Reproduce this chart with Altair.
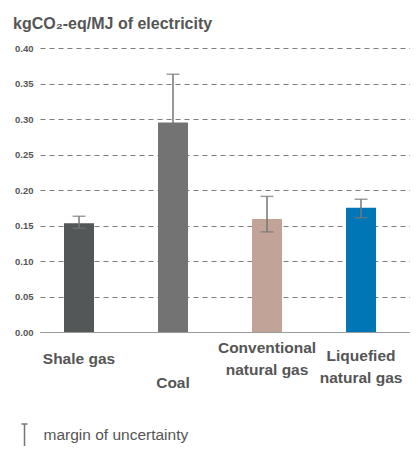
import altair as alt
import pandas as pd

# ---- data ----
categories = ["Shale gas", "Coal", "Conventional natural gas", "Liquefied natural gas"]
values = [0.153, 0.295, 0.159, 0.175]
lows = [0.146, 0.291, 0.141, 0.161]
highs = [0.163, 0.363, 0.191, 0.187]
bar_colors = ["#535758", "#737373", "#c1a398", "#0076b6"]
y_ticks = [0.0, 0.05, 0.10, 0.15, 0.20, 0.25, 0.30, 0.35, 0.40]
legend_label = "margin of uncertainty"
title_text = "kgCO\u2082-eq/MJ of electricity"

df = pd.DataFrame({
    "category": categories,
    "value": values,
    "low": lows,
    "high": highs,
    "legend": [legend_label] * len(categories),
})

FONT = "Liberation Sans"
TEXT = "#555555"
ERR = "#767676"

x_scale = alt.Scale(domain=categories, paddingInner=0.681, paddingOuter=0.3085, align=0.414)

x_axis = alt.Axis(
    title=None,
    labelAngle=0,
    ticks=False,
    tickSize=0,
    grid=False,
    domain=True,
    domainColor="#9a9a9a",
    domainWidth=1,
    labelFont=FONT,
    labelFontSize=15.5,
    labelFontWeight="bold",
    labelColor=TEXT,
    labelBaseline="alphabetic",
    labelLineHeight=22,
    labelOverlap=False,
    labelBound=False,
    labelFlush=False,
    labelExpr="datum.value == 'Conventional natural gas' ? ['Conventional', 'natural gas'] : "
              "datum.value == 'Liquefied natural gas' ? ['Liquefied', 'natural gas'] : datum.label",
    labelPadding={
        "condition": [
            {"test": "datum.value == 'Coal'", "value": 55},
            {"test": "datum.value == 'Conventional natural gas'", "value": 20},
            {"test": "datum.value == 'Liquefied natural gas'", "value": 28},
        ],
        "value": 31,
    },
)

y_axis = alt.Axis(
    title=None,
    values=y_ticks,
    tickCount=len(y_ticks),
    format=".2f",
    ticks=False,
    tickSize=0,
    domain=False,
    grid=True,
    gridDash=[5, 4],
    gridColor="#7d7d7d",
    gridWidth=1,
    labelOverlap=False,
    labelFont=FONT,
    labelFontSize=9.5,
    labelFontWeight="bold",
    labelColor=TEXT,
    labelPadding=7,
)

base = alt.Chart(df)

bars = base.mark_bar().encode(
    x=alt.X("category:N", sort=categories, scale=x_scale, axis=x_axis),
    y=alt.Y("value:Q", scale=alt.Scale(domain=[0, 0.4], nice=False), axis=y_axis),
    fill=alt.Fill("category:N", scale=alt.Scale(domain=categories, range=bar_colors), legend=None),
)

rules = base.mark_rule(strokeWidth=1.5).encode(
    x=alt.X("category:N", sort=categories),
    y="low:Q",
    y2="high:Q",
    stroke=alt.Stroke(
        "legend:N",
        scale=alt.Scale(domain=[legend_label], range=[ERR]),
        legend=alt.Legend(
            title=None,
            orient="none",
            legendX=-27.5,
            legendY=375,
            padding=0,
            symbolType="M-0.27,-1L0.27,-1M0,-1L0,1.7",
            symbolSize=484,
            symbolStrokeWidth=1.5,
            symbolFillColor="transparent",
            labelFont=FONT,
            labelFontSize=15.5,
            labelColor=TEXT,
            labelOffset=7,
            labelLimit=400,
        ),
    ),
)

caps_hi = base.mark_tick(size=13, thickness=1.5, color=ERR).encode(
    x=alt.X("category:N", sort=categories),
    y="high:Q",
)
caps_lo = base.mark_tick(size=13, thickness=1.5, color=ERR).encode(
    x=alt.X("category:N", sort=categories),
    y="low:Q",
)

chart = (
    alt.layer(bars, rules, caps_hi, caps_lo)
    .properties(
        width=370,
        height=284,
        autosize="none",
        padding={"left": 32, "top": 40, "right": 0, "bottom": 114},
        title=alt.TitleParams(
            text=title_text,
            anchor="start",
            frame="group",
            dx=-27,
            dy=21,
            offset=19,
            baseline="alphabetic",
            font=FONT,
            fontSize=16,
            fontWeight="bold",
            color=TEXT,
        ),
    )
    .configure(font=FONT, background="white")
    .configure_view(stroke=None)
)

chart.save("out.html", embed_options={"renderer": "svg", "actions": False})
